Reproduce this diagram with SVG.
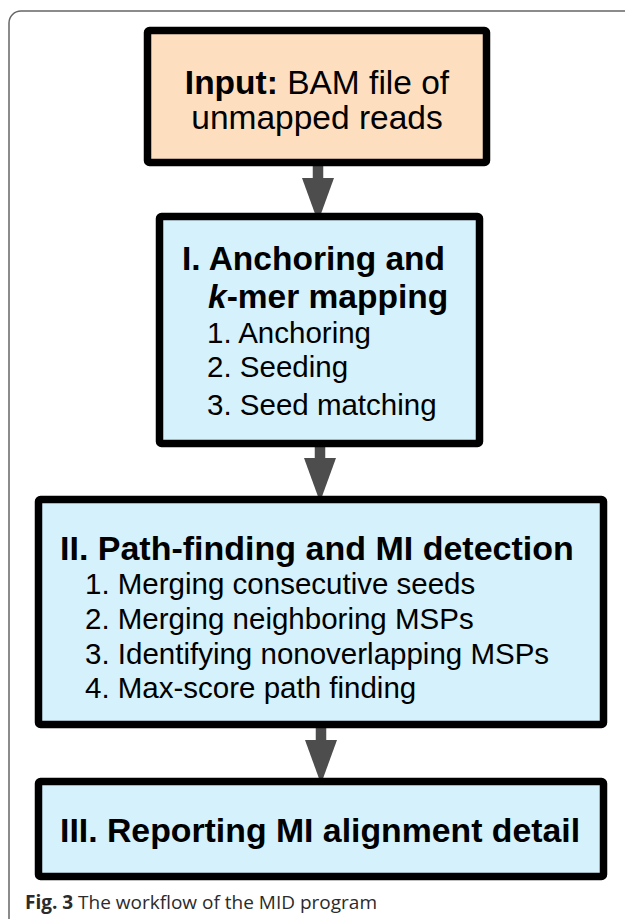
<svg xmlns="http://www.w3.org/2000/svg" width="625" height="919" viewBox="0 0 625 919">
<style>
.box{stroke:#000;stroke-width:7.5;stroke-linejoin:round}
.peach{fill:#FDDFC0}
.blue{fill:#D4F1FC}
.t{font-family:"Liberation Sans",Arial,Helvetica,sans-serif;fill:#000}
.b{font-weight:bold}
.shaft{stroke:#4D4D4D;stroke-width:10.5;stroke-linecap:round;fill:none}
.head{fill:#4D4D4D}
.cap{font-family:"Open Sans","Noto Sans",sans-serif;font-size:19px;fill:#2b2b2b}
</style>
<rect width="625" height="919" fill="#fff"/>
<path d="M9,925 V23 A12,12 0 0 1 21,11 H630" fill="none" stroke="#666" stroke-width="1.5"/>

<g id="connectors">
  <line class="shaft" x1="318" y1="161" x2="318" y2="180"/>
  <polygon class="head" points="302,178 334,178 318,222"/>
  <line class="shaft" x1="320" y1="443" x2="320" y2="460"/>
  <polygon class="head" points="304,458 336,458 320,502"/>
  <line class="shaft" x1="321" y1="724" x2="321" y2="742"/>
  <polygon class="head" points="305,740 337,740 321,784"/>
</g>

<g id="node-input">
  <rect class="box peach" x="147.5" y="30.5" width="339" height="132" rx="2"/>
  <text class="t" x="317" y="94" font-size="33.5" text-anchor="middle"><tspan class="b">Input:</tspan> BAM file of</text>
  <text class="t" x="317" y="129" font-size="33.5" text-anchor="middle">unmapped reads</text>
</g>

<g id="node-1">
  <rect class="box blue" x="159.5" y="216.5" width="320" height="227" rx="2"/>
  <text class="t b" x="182" y="270" font-size="33.5">I. Anchoring and</text>
  <text class="t b" x="208" y="308" font-size="33.5"><tspan font-style="italic">k</tspan>-mer mapping</text>
  <text class="t" x="207" y="343" font-size="29.5">1. Anchoring</text>
  <text class="t" x="207" y="377" font-size="29.5">2. Seeding</text>
  <text class="t" x="207" y="415" font-size="29.5">3. Seed matching</text>
</g>

<g id="node-2">
  <rect class="box blue" x="38.5" y="499.5" width="565" height="225" rx="2"/>
  <text class="t b" x="60" y="560" font-size="34">II. Path-finding and MI detection</text>
  <text class="t" x="85" y="594" font-size="29.5">1. Merging consecutive seeds</text>
  <text class="t" x="85" y="629" font-size="29.5">2. Merging neighboring MSPs</text>
  <text class="t" x="85" y="664" font-size="29.5">3. Identifying nonoverlapping MSPs</text>
  <text class="t" x="85" y="698" font-size="29.5">4. Max-score path finding</text>
</g>

<g id="node-3">
  <rect class="box blue" x="38.5" y="781.5" width="565" height="95" rx="2"/>
  <text class="t b" x="60" y="842" font-size="33.8">III. Reporting MI alignment detail</text>
</g>

<text class="cap" x="25" y="909"><tspan font-weight="bold">Fig. 3</tspan> The workflow of the MID program</text>
</svg>
